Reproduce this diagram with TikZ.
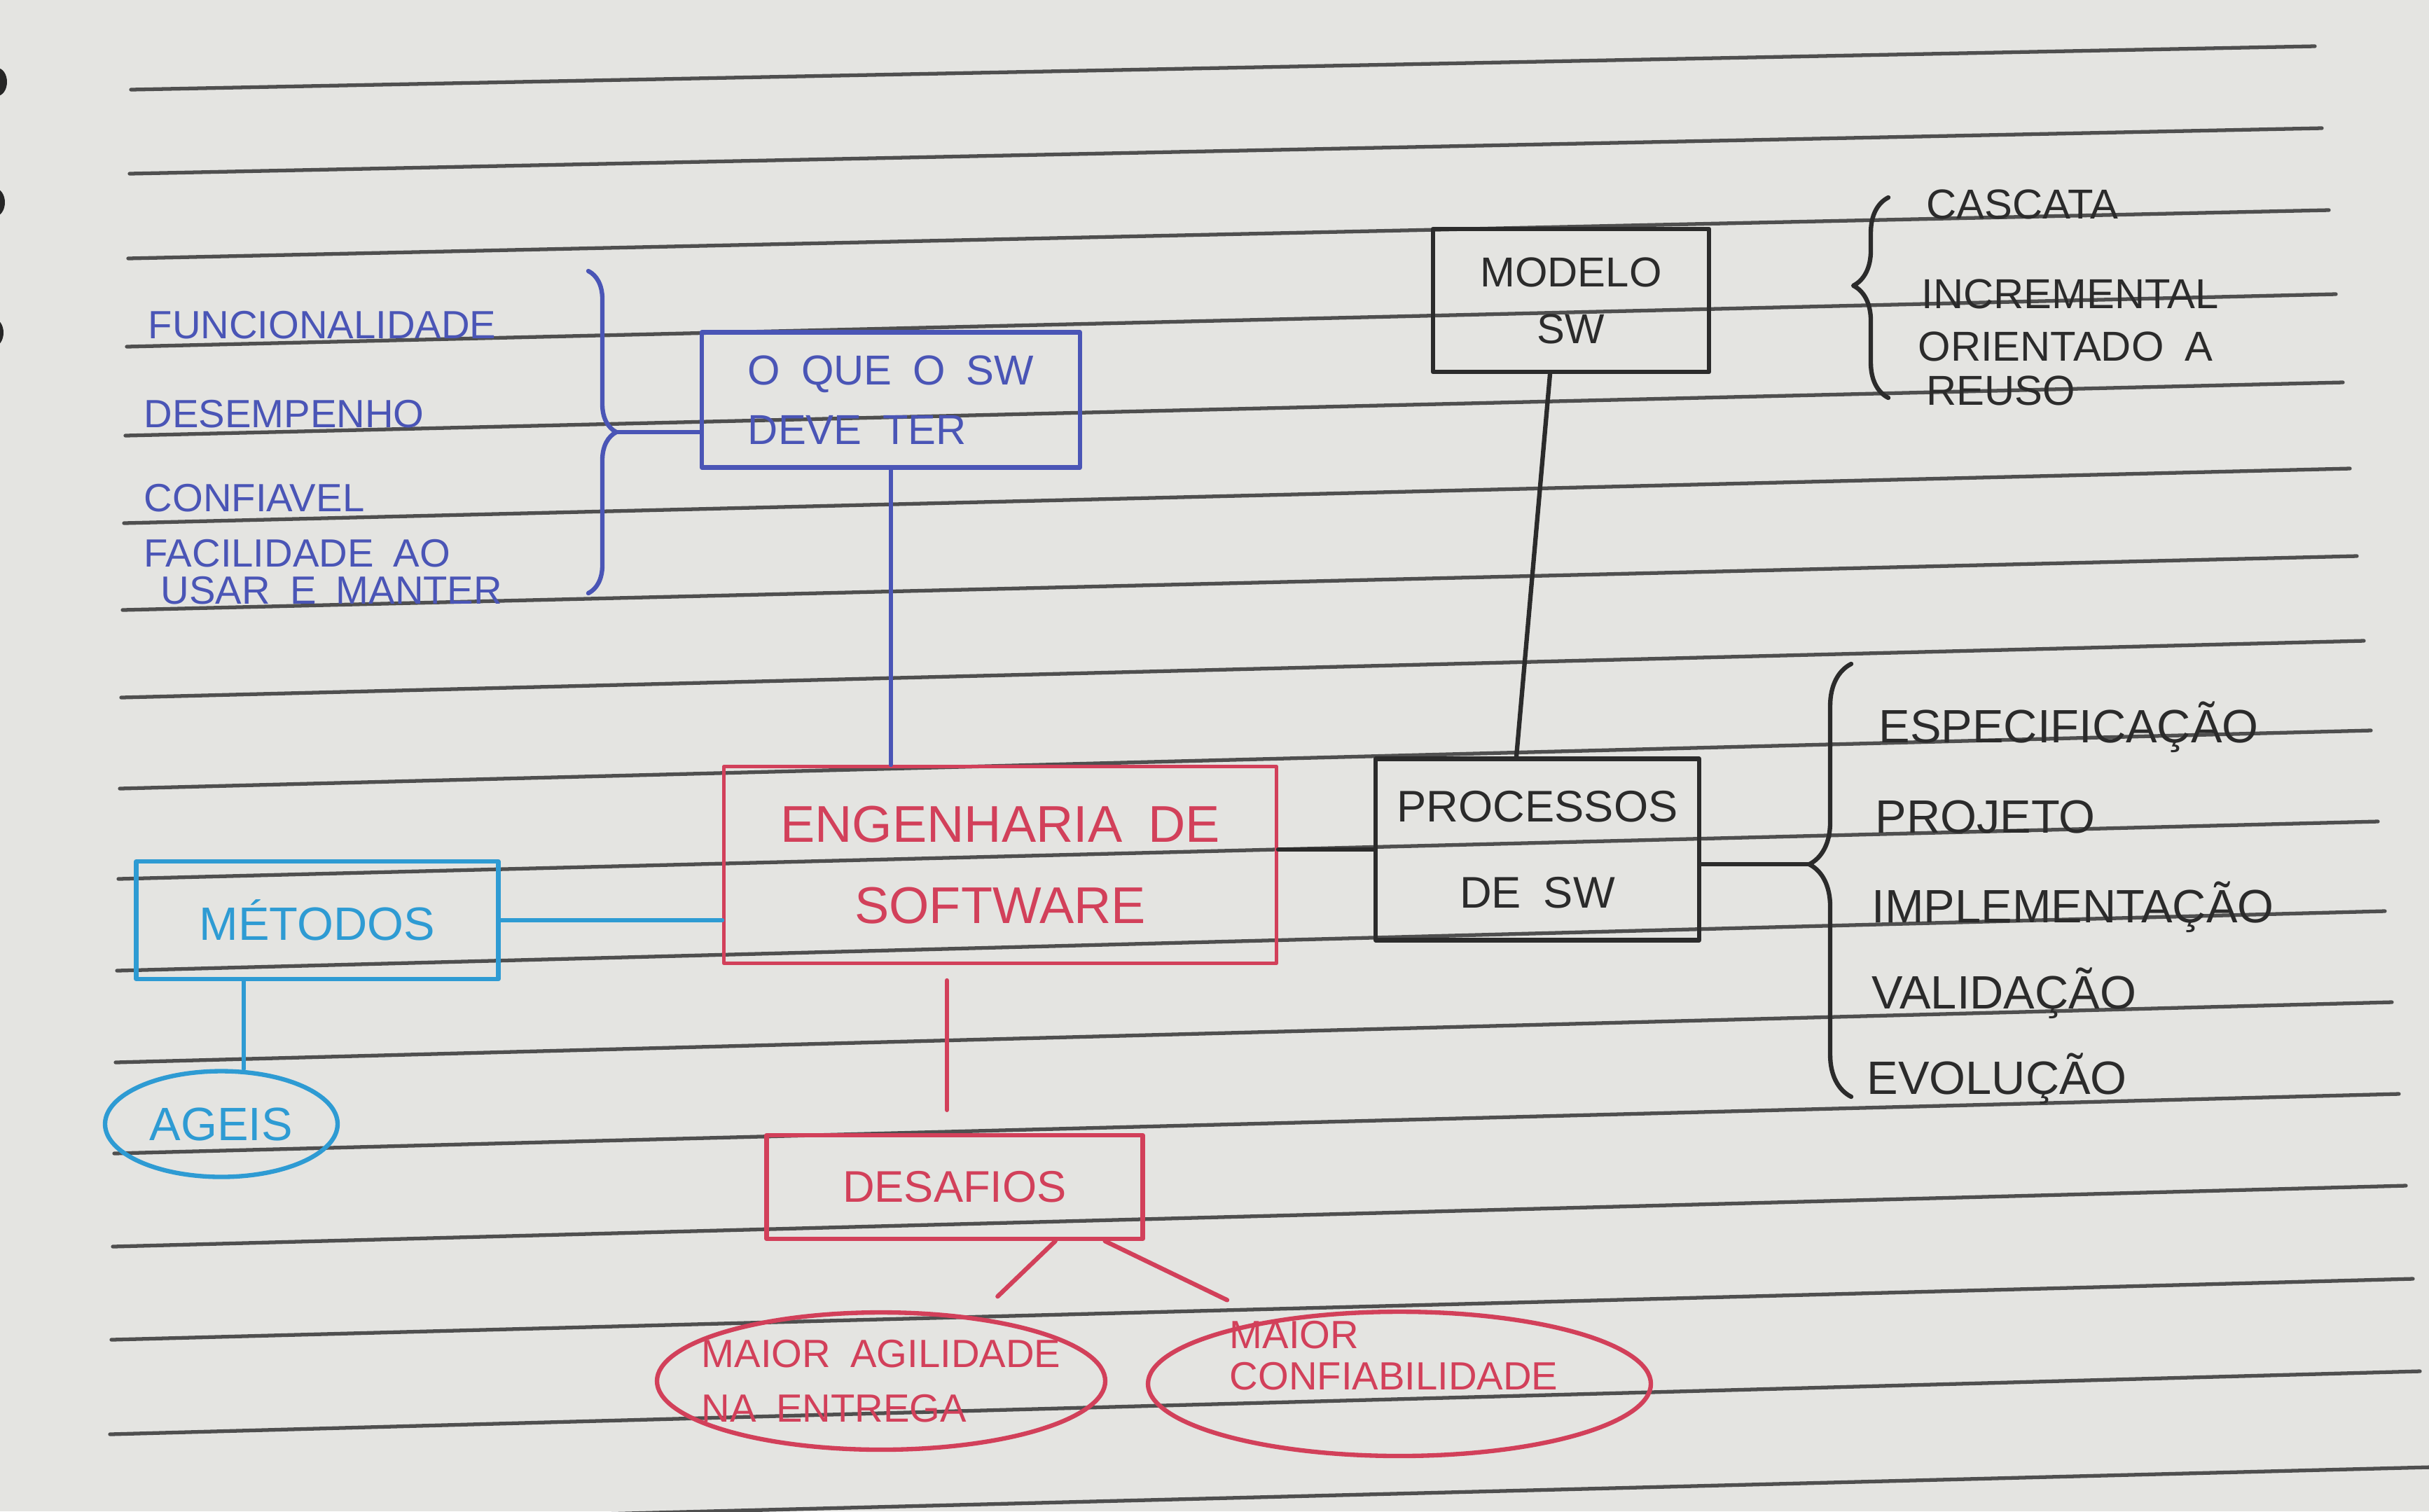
\documentclass[tikz,border=0pt]{standalone}
\usepackage{fontspec}
\setmainfont{Liberation Sans}[WordSpace=1.8]
\usetikzlibrary{positioning,shapes.geometric,decorations.pathreplacing}
\definecolor{paper}{HTML}{E4E4E1}
\definecolor{ruling}{HTML}{4F4F4F}
\definecolor{penblue}{HTML}{4A55B6}
\definecolor{pencyan}{HTML}{2E9BD3}
\definecolor{penred}{HTML}{D2405A}
\definecolor{penblack}{HTML}{2B2B2B}
\newcommand{\pensize}[2]{\fontsize{#1}{#2}\selectfont}

\begin{document}
\begin{tikzpicture}[
  line cap=round, line join=round,
  pbox/.style={draw, rectangle, line width=1.8pt, inner sep=0pt, align=center},
  poval/.style={draw, ellipse, line width=1.8pt, inner sep=0pt, align=center},
  ptext/.style={inner sep=0pt, align=left},
  plink/.style={line width=1.8pt},
  pbrace/.style={line width=1.8pt, decorate},
  reqtxt/.style={ptext, anchor=base west, text=penblue, font=\pensize{16}{15}},
  modtxt/.style={ptext, anchor=base west, text=penblack, font=\pensize{17}{18}},
  etatxt/.style={ptext, anchor=base west, text=penblack, font=\pensize{19}{19}}
]
  % paper
  \useasboundingbox (0,0) rectangle (34.68,-21.58);
  \fill[paper] (0,0) rectangle (34.68,-21.58);
  % spiral holes
  \foreach \hx/\hy in {-0.04/-1.17,-0.07/-2.89,-0.09/-4.75}
    \fill[black!85] (\hx,\hy) ellipse (0.14 and 0.2);
  % ruled lines
  \foreach \lx/\ly/\rx/\ry in {1.87/-1.28/33.05/-0.66, 1.85/-2.48/33.15/-1.83,
      1.83/-3.69/33.25/-3.00, 1.81/-4.95/33.35/-4.20, 1.79/-6.22/33.45/-5.46,
      1.77/-7.47/33.55/-6.69, 1.75/-8.71/33.65/-7.94, 1.73/-9.96/33.75/-9.15,
      1.71/-11.26/33.85/-10.43, 1.69/-12.55/33.95/-11.73, 1.67/-13.86/34.05/-13.01,
      1.65/-15.17/34.15/-14.31, 1.63/-16.47/34.25/-15.62, 1.61/-17.80/34.35/-16.93,
      1.59/-19.13/34.45/-18.26, 1.57/-20.48/34.55/-19.58, 1.55/-21.80/34.70/-20.95}
    \draw[ruling, line width=1.5pt] (\lx,\ly) -- (\rx,\ry);

  % o que o sw deve ter
  \node[reqtxt] (func) at (2.11,-4.83) {FUNCIONALIDADE};
  \node[reqtxt] (desemp) at (2.05,-6.10) {DESEMPENHO};
  \node[reqtxt] (confiavel) at (2.05,-7.30) {CONFIAVEL};
  \node[reqtxt, anchor=north west] (facil) at (2.05,-7.70) {FACILIDADE AO\\\hspace*{0.24cm}USAR E MANTER};
  \coordinate (reqtop) at (8.40,-3.87);
  \coordinate (reqbot) at (8.40,-8.47);
  \coordinate (reqtip) at (8.80,-6.17);
  \draw[pbrace, penblue, decoration={brace, amplitude=0.4cm}] (reqtop) -- (reqbot);
  \node[pbox, penblue, align=left, minimum width=5.4cm, minimum height=1.93cm,
    font=\pensize{17}{24}] (oque) at (12.72,-5.71) {O QUE O SW\\DEVE TER};
  \draw[plink, penblue] (reqtip) -- (reqtip -| oque.west);

  % modelo sw
  \node[pbox, penblack, minimum width=3.94cm, minimum height=2.04cm,
    font=\pensize{17}{23}] (modelo) at (22.43,-4.29) {MODELO\\SW};
  \coordinate (modbot) at (26.96,-5.68);
  \coordinate (modtop) at (26.96,-2.82);
  \draw[pbrace, penblack, decoration={brace, amplitude=0.5cm, aspect=0.56}] (modbot) -- (modtop);
  \node[modtxt] (cascata) at (27.50,-3.12) {CASCATA};
  \node[modtxt] (incr) at (27.43,-4.40) {INCREMENTAL};
  \node[modtxt, anchor=north west] (reuso) at (27.38,-4.73) {ORIENTADO A\\\hspace*{0.12cm}REUSO};

  % engenharia de software
  \node[pbox, penred, line width=1.4pt, minimum width=7.89cm, minimum height=2.81cm,
    font=\pensize{21}{33}] (eng) at (14.28,-12.35) {ENGENHARIA DE\\SOFTWARE};
  \draw[plink, penblue] (oque.south) -- (oque.south |- eng.north);

  % processos de sw
  \node[pbox, penblack, minimum width=4.62cm, minimum height=2.59cm,
    font=\pensize{18}{35}] (proc) at (21.95,-12.13) {PROCESSOS\\DE SW};
  \draw[plink, penblack] ([xshift=-0.3cm]modelo.south) -- ([xshift=-0.3cm]proc.north);
  \draw[plink, penblack] (proc.west -| eng.east) -- (proc.west);
  \coordinate (etabot) at (26.43,-15.66);
  \coordinate (etatop) at (26.43,-9.48);
  \coordinate (etatip) at (25.83,-12.34);
  \draw[pbrace, penblack, decoration={brace, amplitude=0.6cm, aspect=0.537}] (etabot) -- (etatop);
  \draw[plink, penblack] (etatip -| proc.east) -- (etatip);
  \node[etatxt] (espec) at (26.82,-10.60) {ESPECIFICAÇÃO};
  \node[etatxt] (projeto) at (26.77,-11.89) {PROJETO};
  \node[etatxt] (impl) at (26.72,-13.17) {IMPLEMENTAÇÃO};
  \node[etatxt] (valid) at (26.72,-14.40) {VALIDAÇÃO};
  \node[etatxt] (evol) at (26.65,-15.62) {EVOLUÇÃO};

  % metodos
  \node[pbox, pencyan, minimum width=5.17cm, minimum height=1.68cm,
    font=\pensize{19}{19}] (met) at (4.53,-13.14) {MÉTODOS};
  \node[poval, pencyan, minimum width=3.32cm, minimum height=1.51cm,
    font=\pensize{19}{19}] (ageis) at (3.16,-16.05) {AGEIS};
  \draw[plink, pencyan] (met.east) -- (met.east -| eng.west);
  \draw[plink, pencyan] ([xshift=-1.05cm]met.south) -- ([xshift=-1.05cm]met.south |- ageis.north);

  % desafios
  \node[pbox, penred, minimum width=5.37cm, minimum height=1.48cm,
    font=\pensize{18}{18}] (des) at (13.63,-16.95) {DESAFIOS};
  \draw[plink, penred, shorten <=0.22cm, shorten >=0.33cm]
    ([xshift=-0.76cm]eng.south) -- ([xshift=-0.76cm]eng.south |- des.north);
  \node[poval, penred, minimum width=6.40cm, minimum height=1.96cm] (agil) at (12.58,-19.72) {};
  \node[ptext, text=penred, font=\pensize{16}{22}] (agiltxt) at (agil.center) {MAIOR AGILIDADE\\NA ENTREGA};
  \node[poval, penred, minimum width=7.18cm, minimum height=2.06cm] (confia) at (19.98,-19.76) {};
  \node[ptext, text=penred, anchor=north west, font=\pensize{16}{17}] (confiatxt) at (17.55,-18.85) {MAIOR\\CONFIABILIDADE};
  \draw[plink, penred, shorten >=0.42cm] ([xshift=-1.28cm]des.south east) -- (agil.34);
  \draw[plink, penred, shorten >=0.66cm] ([xshift=-0.57cm]des.south east) -- (confia.154);
\end{tikzpicture}
\end{document}
